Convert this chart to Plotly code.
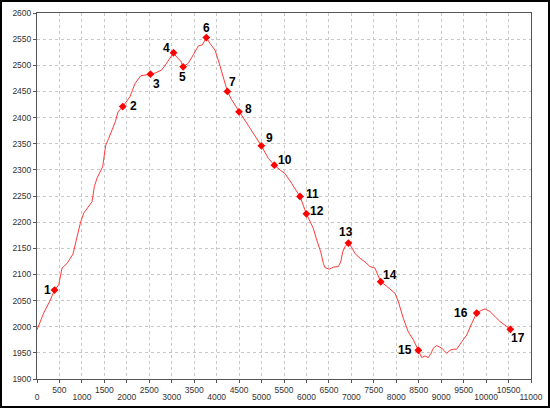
import plotly.graph_objects as go

# Elevation profile (distance, elevation)
dist = [0, 148, 297, 390, 483, 557, 668, 802, 876, 965, 1039, 1225, 1277, 1336, 1462, 1530, 1596,
        1744, 1804, 1910, 2071, 2182, 2309, 2405, 2525, 2627, 2776, 2887, 3040, 3110, 3200, 3255,
        3369, 3480, 3592, 3681, 3770, 3852, 3963, 4037, 4112, 4186, 4240, 4335, 4409, 4498, 4640,
        4817, 4996, 5151, 5285, 5411, 5522, 5671, 5857, 5998, 6080, 6154, 6228, 6318, 6377, 6413,
        6509, 6599, 6710, 6763, 6807, 6859, 6935, 7007, 7081, 7192, 7303, 7415, 7526, 7577, 7653,
        7749, 7823, 7897, 7972, 8046, 8157, 8268, 8380, 8491, 8565, 8639, 8713, 8773, 8826, 8900,
        9012, 9123, 9197, 9271, 9346, 9457, 9568, 9679, 9790, 9886, 9975, 10086, 10198, 10309,
        10420, 10540]
elev = [1994, 2026, 2051, 2070, 2080, 2112, 2121, 2139, 2166, 2198, 2217, 2239, 2268, 2284, 2306,
        2347, 2360, 2392, 2411, 2421, 2440, 2465, 2480, 2481, 2483, 2485, 2491, 2504, 2524, 2516,
        2508, 2497, 2504, 2520, 2537, 2539, 2553, 2542, 2529, 2510, 2488, 2469, 2450, 2434, 2424,
        2411, 2393, 2370, 2346, 2322, 2309, 2300, 2293, 2274, 2249, 2216, 2201, 2188, 2166, 2143,
        2121, 2113, 2110, 2114, 2115, 2124, 2143, 2153, 2160, 2152, 2140, 2131, 2124, 2115, 2112,
        2102, 2086, 2080, 2075, 2070, 2064, 2048, 2016, 1990, 1975, 1955, 1941, 1944, 1941, 1949,
        1959, 1964, 1959, 1949, 1955, 1957, 1957, 1971, 1984, 2006, 2026, 2031, 2034, 2029, 2019,
        2010, 2003, 1995]

# Waypoints
wp_labels = [str(i) for i in range(1, 18)]
wp_dist = [390, 1910, 2525, 3040, 3255, 3770, 4240, 4498, 4996, 5285, 5857, 5998, 6935, 7653,
           8491, 9790, 10540]
wp_elev = [2070, 2421, 2483, 2524, 2497, 2553, 2450, 2411, 2346, 2309, 2249, 2216, 2160, 2086,
           1955, 2026, 1995]

# label offsets in pixels (dx, dy screen-down)
lbl_dx = [-7, 11, 6, -7, -1, 0, 5, 9, 8, 11, 12, 11, -2, 9, -13, -16, 8]
lbl_dy = [0, -1, 10, -5, 10, -10, -9, -3, -8, -5, -3, -3, -11, -7, 0, 0, 9]

x_odd = list(range(500, 11000, 1000))
x_even = list(range(0, 11001, 1000))

fig = go.Figure()
fig.add_trace(go.Scatter(x=dist, y=elev, mode="lines",
                         line=dict(color="#ff3a3a", width=1), showlegend=False, hoverinfo="skip"))
fig.add_trace(go.Scatter(x=wp_dist, y=wp_elev, mode="markers",
                         marker=dict(symbol="diamond", size=6, color="#ff0000"),
                         showlegend=False))
# invisible trace for the second x axis
fig.add_trace(go.Scatter(x=[0, 11000], y=[1900, 1900], xaxis="x2", mode="lines",
                         line=dict(width=0), showlegend=False, hoverinfo="skip"))

for t, x, y, dx, dy in zip(wp_labels, wp_dist, wp_elev, lbl_dx, lbl_dy):
    fig.add_annotation(x=x, y=y, text="<b>%s</b>" % t, showarrow=False,
                       xshift=dx, yshift=-dy,
                       font=dict(family="Liberation Sans, Arial", size=12, color="#000000"))

W, H = 550, 408
ml, mr, mt, mb = 37, 19, 13, 29
pw, ph = W - ml - mr, H - mt - mb
fig.add_shape(type="rect", xref="paper", yref="paper",
              x0=(1 - ml) / pw, x1=(W - 1 - ml) / pw,
              y0=-(mb - 1) / ph, y1=1 + (mt - 1) / ph,
              line=dict(color="#000000", width=2), layer="above")

tickfont = dict(family="Liberation Sans, Arial", size=8.5, color="#333333")
fig.update_layout(
    width=W, height=H, margin=dict(l=ml, r=mr, t=mt, b=mb, autoexpand=False),
    paper_bgcolor="white", plot_bgcolor="white",
    xaxis=dict(range=[0, 11000], tickvals=x_odd + x_even,
               ticktext=[str(v) for v in x_odd] + ["" for v in x_even],
               showgrid=True, gridcolor="#c8c8c8", griddash="dot", gridwidth=1,
               ticks="outside", ticklen=3, tickcolor="#555555",
               showline=True, linecolor="#555555", linewidth=1, mirror=True,
               zeroline=False, tickfont=tickfont, tickangle=0, automargin=False),
    xaxis2=dict(range=[0, 11000], overlaying="x", side="bottom", anchor="y",
                tickvals=x_even, ticktext=[str(v) for v in x_even],
                showgrid=False, ticks="", showline=False, zeroline=False,
                tickfont=tickfont, ticklabelstandoff=11, tickangle=0, automargin=False),
    yaxis=dict(range=[1900, 2600], dtick=50, tick0=1900,
               showgrid=True, gridcolor="#c8c8c8", griddash="dot", gridwidth=1,
               ticks="outside", ticklen=3, tickcolor="#555555",
               showline=True, linecolor="#555555", linewidth=1, mirror=True,
               zeroline=False, tickfont=tickfont, automargin=False),
)

fig.write_html("out.html")
